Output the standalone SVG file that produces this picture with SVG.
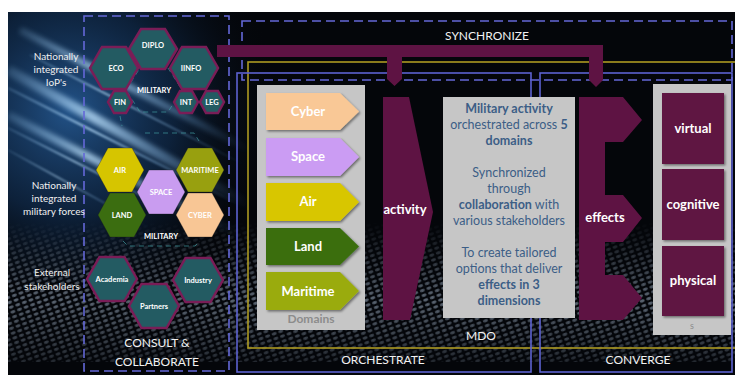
<svg xmlns="http://www.w3.org/2000/svg" width="735" height="375" viewBox="0 0 735 375">
<style>
.t{font-family:Lato,"Liberation Sans",sans-serif}
.w{fill:#ffffff}
.b{font-weight:bold}
.lbl{font-family:Lato,"Liberation Sans",sans-serif;fill:#f0f0f0;font-size:10px;text-anchor:middle}
.hexl{font-family:Lato,"Liberation Sans",sans-serif;fill:#ffffff;font-size:7.5px;font-weight:bold;text-anchor:middle}
.iop{fill:#235b62;stroke:#7a1d57;stroke-width:2.5}
.mil{stroke:#1a1a1a;stroke-width:0.8;stroke-opacity:0.4}
.dash{fill:none;stroke:#6468d8;stroke-width:1.6;stroke-dasharray:9 5}
.solid{fill:none;stroke:#5d62d0;stroke-width:1.6}
.yel{fill:none;stroke:#ad9a22;stroke-width:1.6}
.tdash{fill:none;stroke:#3f9aa0;stroke-width:1;stroke-dasharray:5 4;opacity:0.7}
.frame{font-family:Lato,"Liberation Sans",sans-serif;fill:#f2f2f2;font-size:12px;text-anchor:middle}
.purple{fill:#5e1343}
.dom{font-family:Lato,"Liberation Sans",sans-serif;fill:#ffffff;font-size:13px;font-weight:bold;text-anchor:middle}
.mid{font-family:Lato,"Liberation Sans",sans-serif;fill:#3c5e86;font-size:12.5px;text-anchor:middle}
.panel{fill:#c6c6c6}
</style>
<defs>
<radialGradient id="glow" cx="70" cy="110" r="210" gradientUnits="userSpaceOnUse">
<stop offset="0" stop-color="#2a66a8" stop-opacity="0.8"/>
<stop offset="0.5" stop-color="#163c6a" stop-opacity="0.5"/>
<stop offset="1" stop-color="#05070c" stop-opacity="0"/>
</radialGradient>
<linearGradient id="streak" x1="0" y1="0" x2="1" y2="0">
<stop offset="0" stop-color="#9fd4ff" stop-opacity="0.2"/>
<stop offset="0.35" stop-color="#bfe4ff" stop-opacity="0.9"/>
<stop offset="1" stop-color="#4f8fd0" stop-opacity="0"/>
</linearGradient>
<filter id="blur" x="-20%" y="-20%" width="140%" height="140%"><feGaussianBlur stdDeviation="2.5"/></filter>
<filter id="blur1" x="-20%" y="-20%" width="140%" height="140%"><feGaussianBlur stdDeviation="0.8"/></filter>
<filter id="sh" x="-10%" y="-10%" width="130%" height="130%"><feDropShadow dx="1.5" dy="1.5" stdDeviation="1" flood-color="#000" flood-opacity="0.45"/></filter>
<pattern id="mesh" width="7" height="5" patternUnits="userSpaceOnUse" patternTransform="rotate(-20)">
<ellipse cx="3.5" cy="2.5" rx="2.6" ry="1.4" fill="#9fb0c4"/>
</pattern>
<linearGradient id="meshFade" x1="0" y1="0" x2="0" y2="1">
<stop offset="0" stop-color="#fff" stop-opacity="0"/>
<stop offset="0.55" stop-color="#fff" stop-opacity="0.8"/>
<stop offset="1" stop-color="#fff" stop-opacity="0.3"/>
</linearGradient>
<mask id="meshMask"><rect x="8" y="222" width="727" height="140" fill="url(#meshFade)"/></mask>
</defs>

<!-- background -->
<rect x="0" y="0" width="735" height="375" fill="#ffffff"/>
<rect x="8" y="12" width="727" height="363" fill="#04060a"/>
<rect x="8" y="12" width="270" height="270" fill="url(#glow)"/>
<g opacity="0.7" mask="url(#meshMask)">
<rect x="8" y="222" width="727" height="140" fill="url(#mesh)"/>
</g>
<g filter="url(#blur)" opacity="0.85">
<path d="M8,70 L250,205" stroke="url(#streak)" stroke-width="10" fill="none"/>
<path d="M8,115 L240,235" stroke="url(#streak)" stroke-width="8" fill="none"/>
<path d="M20,30 L250,150" stroke="url(#streak)" stroke-width="7" fill="none"/>
</g>
<g filter="url(#blur1)" opacity="0.9">
<path d="M8,88 L240,205" stroke="url(#streak)" stroke-width="2" fill="none"/>
<path d="M8,128 L200,225" stroke="url(#streak)" stroke-width="1.6" fill="none"/>
<path d="M30,55 L245,165" stroke="url(#streak)" stroke-width="1.6" fill="none"/>
<path d="M8,150 L150,228" stroke="url(#streak)" stroke-width="1.2" fill="none"/>
</g>

<!-- frames -->
<g id="frames">
<rect class="dash" x="84" y="16" width="145" height="355"/>
<rect class="dash" x="242" y="21" width="490" height="59"/>
<rect class="yel" x="248" y="62" width="490" height="286"/>
<rect class="solid" x="237" y="73" width="294" height="299"/>
<rect class="solid" x="540" y="73" width="192" height="299"/>
<text class="frame" x="487" y="39.5">SYNCHRONIZE</text>
<text class="frame" x="383" y="364">ORCHESTRATE</text>
<text class="frame" x="481" y="340">MDO</text>
<text class="frame" x="638" y="364">CONVERGE</text>
<text class="frame" x="157" y="347" font-size="14">CONSULT &amp;</text>
<text class="frame" x="157" y="366" font-size="14">COLLABORATE</text>
</g>

<!-- side labels -->
<g id="labels">
<text class="lbl" x="56" y="60">Nationally</text>
<text class="lbl" x="56" y="73">integrated</text>
<text class="lbl" x="56" y="86">IoP's</text>
<text class="lbl" x="54" y="189">Nationally</text>
<text class="lbl" x="54" y="202">integrated</text>
<text class="lbl" x="54" y="215">military forces</text>
<text class="lbl" x="52" y="276">External</text>
<text class="lbl" x="52" y="290">stakeholders</text>
</g>

<!-- IoP hexes -->
<g id="iop-military">
<polygon class="tdash" points="126,90 140,68 168,68 182,90 168,112 140,112"/>
<path class="tdash" d="M120,116 L122,126 M145,133 L194,133 L199,141"/>
<text class="hexl" x="154" y="93">MILITARY</text>
</g>
<g id="diplo"><polygon class="iop" points="129,49 141,29 165,29 177,49 165,69 141,69"/><text class="hexl" x="153" y="48">DIPLO</text></g>
<g id="eco"><polygon class="iop" points="90,68 102,47 126,47 138,68 126,89 102,89"/><text class="hexl" x="116" y="71">ECO</text></g>
<g id="iinfo"><polygon class="iop" points="170,68 182,47 206,47 218,68 206,89 182,89"/><text class="hexl" x="191" y="71">IINFO</text></g>
<g id="fin"><polygon class="iop" points="108,102 114,91 126,91 132,102 126,113 114,113"/><text class="hexl" x="120" y="105">FIN</text></g>
<g id="int"><polygon class="iop" points="174,102 180,91 192,91 198,102 192,113 180,113"/><text class="hexl" x="186" y="105">INT</text></g>
<g id="leg"><polygon class="iop" points="200,102 206,91 218,91 224,102 218,113 206,113"/><text class="hexl" x="212" y="105">LEG</text></g>

<!-- military forces -->
<g id="air"><polygon class="mil" fill="#d6c500" points="96,170 108,148 132,148 144,170 132,192 108,192"/><text class="hexl" x="120" y="173">AIR</text></g>
<g id="maritime"><polygon class="mil" fill="#98a00f" points="176,170 188,148 212,148 224,170 212,192 188,192"/><text class="hexl" x="200" y="173">MARITIME</text></g>
<g id="space"><polygon class="mil" fill="#c99cf0" points="137,192 149,170 173,170 185,192 173,214 149,214"/><text class="hexl" x="161" y="195">SPACE</text></g>
<g id="land"><polygon class="mil" fill="#3b6d10" points="98,215 110,193 134,193 146,215 134,237 110,237"/><text class="hexl" x="122" y="218">LAND</text></g>
<g id="cyber"><polygon class="mil" fill="#f8c695" points="176,215 188,193 212,193 224,215 212,237 188,237"/><text class="hexl" x="200" y="218">CYBER</text></g>
<g id="military-forces">
<text class="hexl" x="161" y="239">MILITARY</text>
<path class="tdash" d="M123,241 L128,246 L195,246 L200,241"/>
</g>

<!-- external stakeholders -->
<g id="academia"><polygon class="iop" points="87,279 99.5,257 124.5,257 137,279 124.5,301 99.5,301"/><text class="hexl" x="112" y="282" font-size="8">Academia</text></g>
<g id="industry"><polygon class="iop" points="173,280 185.5,258 210.5,258 223,280 210.5,302 185.5,302"/><text class="hexl" x="198" y="283" font-size="8">Industry</text></g>
<g id="partners"><polygon class="iop" points="129,306 141.5,284 166.5,284 179,306 166.5,328 141.5,328"/><text class="hexl" x="154" y="309" font-size="8">Partners</text></g>

<!-- connectors -->
<g id="connectors">
<path class="purple" d="M217,45 L603,45 L603,80 L596,87 L589,80 L589,57 L402,57 L402,79 L394.5,86 L387,79 L387,57 L217,57 Z"/>
</g>

<!-- domains -->
<g id="domains">
<rect class="panel" x="257" y="85" width="108" height="245"/>
<g filter="url(#sh)">
<polygon fill="#f9c896" points="266,93 340,93 359,111.5 340,130 266,130"/>
<polygon fill="#cb9cf3" points="266,138 340,138 359,157 340,176 266,176"/>
<polygon fill="#d8c600" points="266,183 340,183 359,202 340,221 266,221"/>
<polygon fill="#3a6e10" points="266,228 340,228 359,246.5 340,265 266,265"/>
<polygon fill="#9aab10" points="266,272 340,272 359,291 340,310 266,310"/>
</g>
<text class="dom" x="308" y="116">Cyber</text>
<text class="dom" x="308" y="161">Space</text>
<text class="dom" x="308" y="206">Air</text>
<text class="dom" x="308" y="251">Land</text>
<text class="dom" x="308" y="295.5">Maritime</text>
<text class="t b" x="311" y="323" font-size="12" fill="#8c8c8c" text-anchor="middle">Domains</text>
</g>

<!-- activity -->
<g id="activity">
<polygon class="purple" points="383,97 409,97 433,212 410,320 383,320"/>
<text class="dom" x="405" y="214" font-size="12.5">activity</text>
</g>

<!-- description -->
<g id="description">
<rect class="panel" x="443" y="97" width="132" height="221"/>
<text class="mid b" x="509" y="113">Military activity</text>
<text class="mid" x="509" y="129">orchestrated across <tspan font-weight="bold">5</tspan></text>
<text class="mid b" x="509" y="145">domains</text>
<text class="mid" x="509" y="177">Synchronized</text>
<text class="mid" x="509" y="193">through</text>
<text class="mid" x="509" y="209"><tspan font-weight="bold">collaboration</tspan>  with</text>
<text class="mid" x="509" y="225">various stakeholders</text>
<text class="mid" x="509" y="257">To create tailored</text>
<text class="mid" x="509" y="273">options that deliver</text>
<text class="mid b" x="509" y="289">effects in 3</text>
<text class="mid b" x="509" y="305">dimensions</text>
</g>

<!-- effects -->
<g id="effects">
<polygon class="purple" points="579,97 623,97 642,120 623,142 605,142 605,195 623,195 642,218 623,242 605,242 605,275 623,275 642,298 623,320 579,320"/>
<text class="dom" x="605" y="222" font-size="12.5">effects</text>
</g>

<!-- dimensions -->
<g id="dimensions">
<rect class="panel" x="653" y="84" width="78" height="251"/>
<g filter="url(#sh)">
<rect class="purple" x="662" y="93" width="62" height="71"/>
<rect class="purple" x="662" y="169" width="62" height="71"/>
<rect class="purple" x="662" y="246" width="62" height="70"/>
</g>
<text class="dom" x="693" y="133">virtual</text>
<text class="dom" x="693" y="209">cognitive</text>
<text class="dom" x="693" y="285">physical</text>
<text class="t" x="692" y="329" font-size="9" fill="#8c8c8c" text-anchor="middle">s</text>
</g>
</svg>
